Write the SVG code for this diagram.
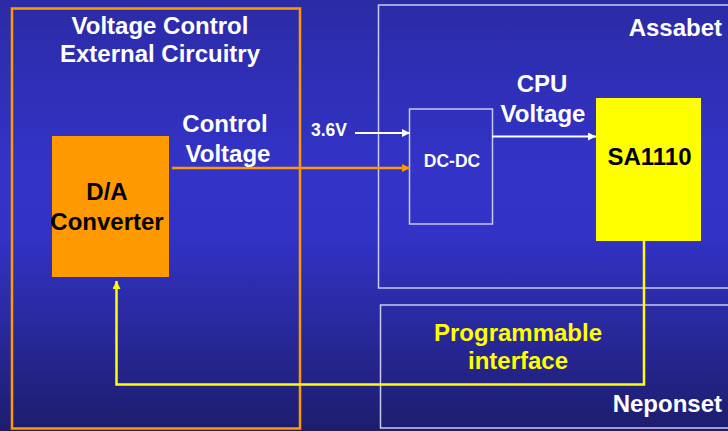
<svg xmlns="http://www.w3.org/2000/svg" width="728" height="431" viewBox="0 0 728 431">
<defs>
<linearGradient id="bg" x1="0" y1="0" x2="0" y2="1">
<stop offset="0" stop-color="#2B2BA6"/>
<stop offset="0.4" stop-color="#3333C9"/>
<stop offset="0.55" stop-color="#3232C6"/>
<stop offset="1" stop-color="#1D1D6E"/>
</linearGradient>
<marker id="aw" viewBox="0 0 10 10" refX="10" refY="5" markerWidth="9" markerHeight="8" markerUnits="userSpaceOnUse" orient="auto"><path d="M0,0 L10,5 L0,10 z" fill="#FFFFFF"/></marker>
<marker id="ao" viewBox="0 0 10 10" refX="10" refY="5" markerWidth="9" markerHeight="8" markerUnits="userSpaceOnUse" orient="auto"><path d="M0,0 L10,5 L0,10 z" fill="#FF9900"/></marker>
<marker id="ay" viewBox="0 0 10 10" refX="10" refY="5" markerWidth="9" markerHeight="8" markerUnits="userSpaceOnUse" orient="auto"><path d="M0,0 L10,5 L0,10 z" fill="#FFFF00"/></marker>
</defs>
<style>
text{font-family:"Liberation Sans",Arial,sans-serif;font-weight:bold;}
.w{fill:#FFFFFF;font-size:24px;}
.s{fill:#FFFFFF;font-size:17.5px;}
.k{fill:#000000;font-size:24px;}
.y{fill:#FFFF00;font-size:24px;}
.frame{fill:none;stroke:#C8C8F0;stroke-width:1.5;}
</style>
<rect x="0" y="0" width="728" height="431" fill="url(#bg)"/>
<g id="assabet">
<rect class="frame" x="378.5" y="5" width="360" height="283"/>
<text class="w" x="722" y="36" text-anchor="end">Assabet</text>
</g>
<g id="neponset">
<rect class="frame" x="380.5" y="305" width="360" height="123"/>
<text class="w" x="722" y="412" text-anchor="end">Neponset</text>
</g>
<g id="external">
<rect x="12" y="8.5" width="288" height="420" fill="none" stroke="#FF9900" stroke-width="2.5"/>
<text class="w" x="160" y="34" text-anchor="middle">Voltage Control</text>
<text class="w" x="160" y="62" text-anchor="middle">External Circuitry</text>
</g>
<g id="da">
<rect x="52" y="136" width="117" height="141" fill="#FF9900"/>
<text class="k" x="107" y="200" text-anchor="middle">D/A</text>
<text class="k" x="107" y="230" text-anchor="middle">Converter</text>
</g>
<g id="dcdc">
<rect x="409.5" y="109" width="83" height="115" fill="none" stroke="#C8C8F0" stroke-width="1.5"/>
<text class="s" x="452" y="167" text-anchor="middle">DC-DC</text>
</g>
<g id="sa1110">
<rect x="596" y="98" width="105" height="143" fill="#FFFF00"/>
<text class="k" x="649.5" y="165" text-anchor="middle">SA1110</text>
</g>
<g id="programmable">
<text class="y" x="518" y="341" text-anchor="middle">Programmable</text>
<text class="y" x="518" y="369" text-anchor="middle">interface</text>
</g>
<g id="connectors">
<path d="M355,133 L410,133" stroke="#FFFFFF" stroke-width="2" fill="none" marker-end="url(#aw)"/>
<path d="M492,136.5 L596,136.5" stroke="#FFFFFF" stroke-width="2" fill="none" marker-end="url(#aw)"/>
<path d="M172,168 L410,168" stroke="#FF9900" stroke-width="2.5" fill="none" marker-end="url(#ao)"/>
<path d="M644,241 L644,384.5 L116.5,384.5 L116.5,281" stroke="#FFFF00" stroke-width="2.5" fill="none" marker-end="url(#ay)"/>
<text class="w" x="225" y="132" text-anchor="middle">Control</text>
<text class="w" x="228" y="162" text-anchor="middle">Voltage</text>
<text class="s" x="329" y="136" text-anchor="middle">3.6V</text>
<text class="w" x="542" y="92" text-anchor="middle">CPU</text>
<text class="w" x="543" y="122" text-anchor="middle">Voltage</text>
</g>
</svg>
